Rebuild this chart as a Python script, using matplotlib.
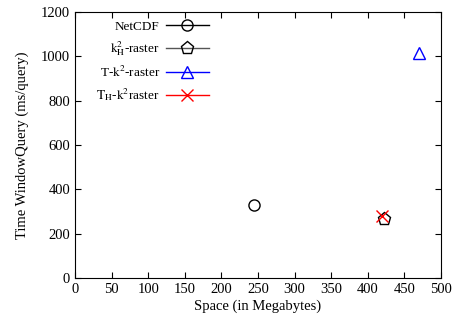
import matplotlib
matplotlib.use("Agg")
import matplotlib.pyplot as plt

plt.rcParams["font.family"] = ["Liberation Serif", "DejaVu Serif"]
plt.rcParams["mathtext.fontset"] = "stix"

# data
labels = ["NetCDF", "$\\mathrm{k}^2_\\mathrm{H}$-raster", "T-$\\mathrm{k}^2$-raster", "$\\mathrm{T}_\\mathrm{H}$-$\\mathrm{k}^2$raster"]
space_mb = [245, 422, 470, 420]
query_ms = [328, 265, 1015, 280]
markers = ["o", "p", "^", "x"]
marker_sizes = [8, 9.5, 8, 8]
line_colors = ["black", "#555555", "blue", "red"]
edge_colors = ["black", "black", "blue", "red"]

fig, ax = plt.subplots(figsize=(4.55, 3.25), dpi=100)
fig.subplots_adjust(left=0.165, right=0.969, bottom=0.145, top=0.963)

for i in range(len(labels)):
    ax.plot([space_mb[i]], [query_ms[i]], linestyle="-", color=line_colors[i],
            linewidth=1.0, marker=markers[i], markersize=marker_sizes[i],
            markerfacecolor="none", markeredgecolor=edge_colors[i],
            markeredgewidth=1.0, label=labels[i])

ax.set_xlim(0, 500)
ax.set_ylim(0, 1200)
ax.set_xticks(range(0, 501, 50))
ax.set_yticks(range(0, 1201, 200))
ax.tick_params(direction="in", top=True, right=True, labelsize=10.5, length=4)
ax.set_xlabel("Space (in Megabytes)", fontsize=10.5, labelpad=3)
ax.set_ylabel("Time WindowQuery (ms/query)", fontsize=10.5, labelpad=9)

ax.legend(loc="upper left", markerfirst=False, frameon=False, fontsize=9.5,
          handlelength=3.2, handletextpad=0.5, labelspacing=0.5,
          bbox_to_anchor=(0.035, 1.0), borderaxespad=0.25)

fig.savefig("out.png", dpi=100)
